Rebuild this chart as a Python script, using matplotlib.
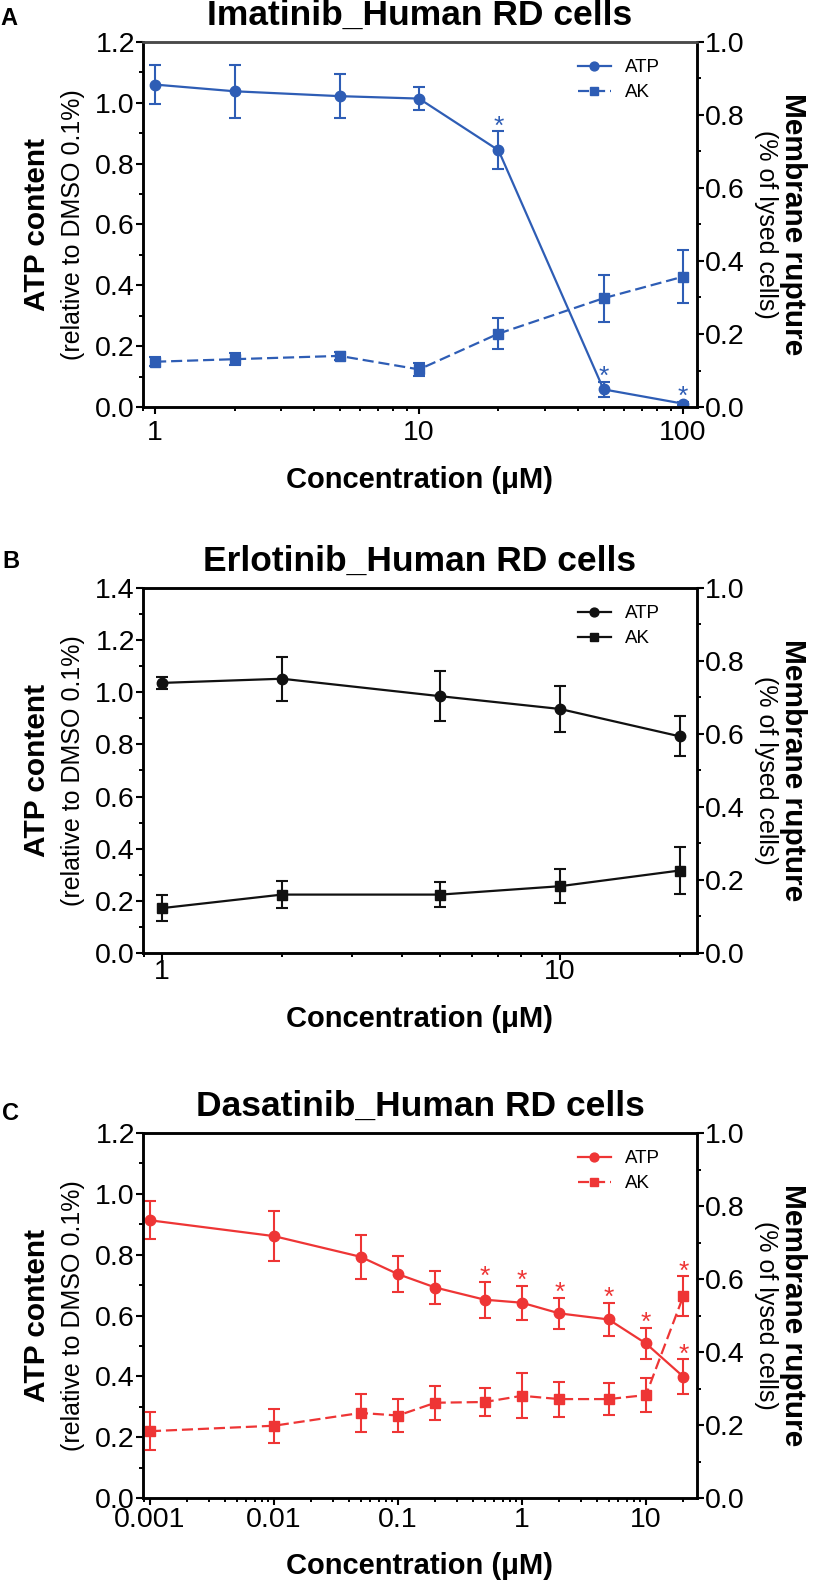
import matplotlib
matplotlib.use('Agg')
import matplotlib.pyplot as plt
from matplotlib.ticker import MultipleLocator, LogLocator, NullFormatter, FormatStrFormatter

FONT = ['Liberation Sans', 'DejaVu Sans']

# panel A - imatinib
ima_conc = [1, 2, 5, 10, 20, 50, 100]
ima_atp = [1.060, 1.038, 1.022, 1.014, 0.844, 0.058, 0.011]
ima_atp_err = [0.065, 0.088, 0.072, 0.038, 0.062, 0.025, 0.006]
ima_ak = [0.124, 0.131, 0.140, 0.103, 0.201, 0.298, 0.357]
ima_ak_err = [0.012, 0.017, 0.012, 0.018, 0.043, 0.064, 0.072]
ima_atp_stars = [20, 50, 100]
ima_ak_stars = []
ima_xticks = [1, 10, 100]
ima_xticklabels = ['1', '10', '100']

# panel B - erlotinib
erl_conc = [1, 2, 5, 10, 20]
erl_atp = [1.036, 1.052, 0.985, 0.936, 0.831]
erl_atp_err = [0.024, 0.085, 0.097, 0.088, 0.077]
erl_ak = [0.123, 0.160, 0.160, 0.183, 0.226]
erl_ak_err = [0.036, 0.038, 0.035, 0.046, 0.065]
erl_xticks = [1, 10]
erl_xticklabels = ['1', '10']

# panel C - dasatinib
das_conc = [0.001, 0.01, 0.05, 0.1, 0.2, 0.5, 1, 2, 5, 10, 20]
das_atp = [0.913, 0.861, 0.793, 0.736, 0.692, 0.652, 0.642, 0.607, 0.587, 0.508, 0.399]
das_atp_err = [0.063, 0.081, 0.073, 0.058, 0.053, 0.059, 0.056, 0.050, 0.054, 0.052, 0.057]
das_ak = [0.183, 0.198, 0.233, 0.226, 0.261, 0.263, 0.280, 0.271, 0.271, 0.282, 0.553]
das_ak_err = [0.052, 0.046, 0.051, 0.046, 0.047, 0.038, 0.062, 0.048, 0.043, 0.047, 0.054]
das_atp_stars = [0.5, 1, 2, 5, 10, 20]
das_ak_stars = [20]
das_xticks = [0.001, 0.01, 0.1, 1, 10]
das_xticklabels = ['0.001', '0.01', '0.1', '1', '10']

W, H = 813, 1585


def panel(fig, box, letter, title, conc, atp, atp_err, ak, ak_err, color, ak_ls,
          ymax, xlim, xticks, xticklabels, atp_stars=(), ak_stars=(),
          xpad=-3, xlab_off=65, top_color='black'):
    """ draw one panel, box given in pixels (left, top, right, bottom) """
    l, t, r, b = box
    ax = fig.add_axes([l / W, 1 - b / H, (r - l) / W, (b - t) / H])
    ax2 = ax.twinx()
    hpx, pw = b - t, r - l

    kw = dict(color=color, lw=1.6, elinewidth=1.5, capsize=4.5, capthick=1.5, ms=7.5)
    c1 = ax.errorbar(conc, atp, yerr=atp_err, marker='o', ls='-', **kw)
    c2 = ax2.errorbar(conc, ak, yerr=ak_err, marker='s', ls=ak_ls, **kw)

    # significance stars above the error bars
    for a, xs, ys, es in ((ax, atp_stars, atp, atp_err), (ax2, ak_stars, ak, ak_err)):
        for x in xs:
            i = conc.index(x)
            a.annotate('*', (x, ys[i] + es[i]), xytext=(0, -1.5), textcoords='offset points',
                       ha='center', va='baseline', color=color, fontsize=19, family=FONT)

    ax.set_xscale('log')
    ax.set_xlim(*xlim)
    ax.set_xticks(xticks)
    ax.set_xticklabels(xticklabels)
    ax.xaxis.set_minor_locator(LogLocator(base=10, subs=range(2, 10), numticks=20))
    ax.xaxis.set_minor_formatter(NullFormatter())
    ax.set_ylim(0, ymax)
    ax2.set_ylim(0, 1.0)
    for a in (ax, ax2):
        a.yaxis.set_major_locator(MultipleLocator(0.2))
        a.yaxis.set_minor_locator(MultipleLocator(0.1))
        a.yaxis.set_major_formatter(FormatStrFormatter('%.1f'))
        for s in a.spines.values():
            s.set_linewidth(1.8)
        a.spines['top'].set_color(top_color)
        a.tick_params(which='major', direction='out', length=5, width=1.5,
                      labelsize=20.5, pad=0.8)
        a.tick_params(which='minor', direction='out', length=3, width=1.4)
        for lab in a.get_xticklabels() + a.get_yticklabels():
            lab.set_family(FONT)
    ax.tick_params(axis='x', which='major', pad=xpad)

    ax2.legend([c1[0], c2[0]], ['ATP', 'AK'], loc='upper left',
               bbox_to_anchor=((578 - l) / pw, 1 - 17 / hpx), borderpad=0, borderaxespad=0,
               frameon=False, numpoints=1, markerscale=0.85, handlelength=1.75,
               handletextpad=0.75, labelspacing=0.42, prop={'family': FONT, 'size': 13.5})

    ax.text(0.5, 1 + 17 / hpx, title, transform=ax.transAxes, ha='center', va='baseline',
            fontsize=25.5, fontweight='bold', family=FONT)
    ax.text(0.5, -xlab_off / hpx, 'Concentration (\u03bcM)', transform=ax.transAxes,
            ha='center', va='center', fontsize=21, fontweight='bold', family=FONT)
    ax.text((37 - l) / pw, 0.5, 'ATP content', transform=ax.transAxes, rotation=90,
            ha='center', va='center', fontsize=21.5, fontweight='bold', family=FONT)
    ax.text((73 - l) / pw, 0.5, '(relative to DMSO 0.1%)', transform=ax.transAxes,
            rotation=90, ha='center', va='center', fontsize=18, family=FONT)
    ax.text((793 - l) / pw, 0.5, 'Membrane rupture', transform=ax.transAxes, rotation=270,
            ha='center', va='center', fontsize=21.5, fontweight='bold', family=FONT)
    ax.text((766 - l) / pw, 0.5, '(% of lysed cells)', transform=ax.transAxes,
            rotation=270, ha='center', va='center', fontsize=18, family=FONT)
    fig.text(letter[1] / W, 1 - letter[2] / H, letter[0], ha='left', va='baseline',
             fontsize=17, fontweight='bold', family=FONT)
    return ax


fig = plt.figure(figsize=(W / 100, H / 100), dpi=100)

panel(fig, (143, 42, 697, 407), ('A', 0, 25), 'Imatinib_Human RD cells',
      ima_conc, ima_atp, ima_atp_err, ima_ak, ima_ak_err, '#2E5DB5', (0, (5, 2.2)),
      1.2, (0.90, 113), ima_xticks, ima_xticklabels, ima_atp_stars, ima_ak_stars,
      xpad=4, xlab_off=73, top_color='#4a4a4a')

panel(fig, (143, 588, 697, 953), ('B', 2, 568), 'Erlotinib_Human RD cells',
      erl_conc, erl_atp, erl_atp_err, erl_ak, erl_ak_err, '#111111', '-',
      1.4, (0.895, 22.1), erl_xticks, erl_xticklabels, xpad=-1, xlab_off=66)

panel(fig, (143, 1133, 697, 1498), ('C', 2, 1120), 'Dasatinib_Human RD cells',
      das_conc, das_atp, das_atp_err, das_ak, das_ak_err, '#EE3535', (0, (5, 2.2)),
      1.2, (10 ** -3.056, 25.8), das_xticks, das_xticklabels, das_atp_stars, das_ak_stars,
      xpad=1.5, xlab_off=68)

fig.savefig('out.png', dpi=100)
